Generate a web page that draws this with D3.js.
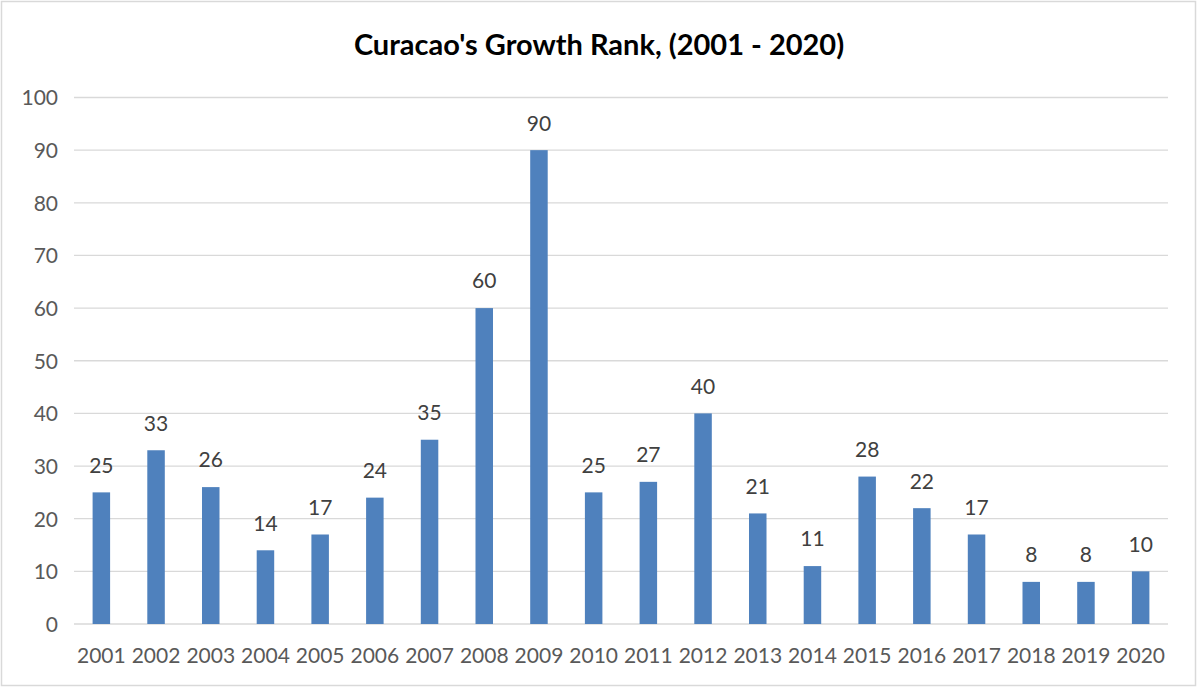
<!DOCTYPE html>
<html><head><meta charset="utf-8">
<script src="https://cdn.jsdelivr.net/npm/d3@7"></script>
<style>body{margin:0;background:#fff;} svg{display:block;}</style>
</head><body>
<svg id="c" width="1197" height="687"></svg>
<script>
const years = ["2001","2002","2003","2004","2005","2006","2007","2008","2009","2010","2011","2012","2013","2014","2015","2016","2017","2018","2019","2020"];
const ranks = [25,33,26,14,17,24,35,60,90,25,27,40,21,11,28,22,17,8,8,10];
const yTicks = [0,10,20,30,40,50,60,70,80,90,100];
const title = "Curacao's Growth Rank, (2001 - 2020)";

const svg = d3.select("#c");
const font = "Lato, 'Open Sans', sans-serif";
svg.append("rect").attr("x",1.5).attr("y",1.5).attr("width",1194).attr("height",684)
  .attr("fill","#fff").attr("stroke","#d9d9d9").attr("stroke-width",1.5);

const x = d3.scaleBand().domain(years).range([74,1168]).paddingInner(0.68).paddingOuter(0.34);
const y = d3.scaleLinear().domain([0,100]).range([624,97.5]);

svg.append("g").selectAll("line").data(yTicks).join("line")
  .attr("x1",74).attr("x2",1168).attr("y1",d=>y(d)).attr("y2",d=>y(d))
  .attr("stroke","#d9d9d9").attr("stroke-width",1.3);

const yAxis = d3.axisLeft(y).tickValues(yTicks).tickSize(0).tickPadding(0);
const gy = svg.append("g").attr("transform","translate(58,0)").call(yAxis);
gy.select(".domain").remove();
gy.selectAll("text").attr("font-family",font).attr("font-size",21).attr("fill","#595959").attr("dy","0.35em");

const xAxis = d3.axisBottom(x).tickSize(0).tickPadding(0);
const gx = svg.append("g").attr("transform","translate(0,656)").call(xAxis);
gx.select(".domain").remove();
gx.selectAll("text").attr("font-family",font).attr("font-size",21).attr("fill","#595959").attr("dy","0.35em");

svg.append("g").selectAll("rect").data(years).join("rect")
  .attr("x",d=>x(d)).attr("width",x.bandwidth())
  .attr("y",(d,i)=>y(ranks[i])).attr("height",(d,i)=>y(0)-y(ranks[i]))
  .attr("fill","#4f81bd");

svg.append("g").selectAll("text").data(years).join("text")
  .attr("x",d=>x(d)+x.bandwidth()/2).attr("y",(d,i)=>y(ranks[i])-27)
  .attr("dy","0.35em").attr("text-anchor","middle")
  .attr("font-family",font).attr("font-size",21).attr("fill","#404040")
  .text((d,i)=>ranks[i]);

svg.append("text").attr("x",599).attr("y",45).attr("dy","0.35em").attr("text-anchor","middle")
  .attr("font-family",font).attr("font-size",29).attr("font-weight","bold").attr("fill","#000")
  .text(title);
</script>
</body></html>
